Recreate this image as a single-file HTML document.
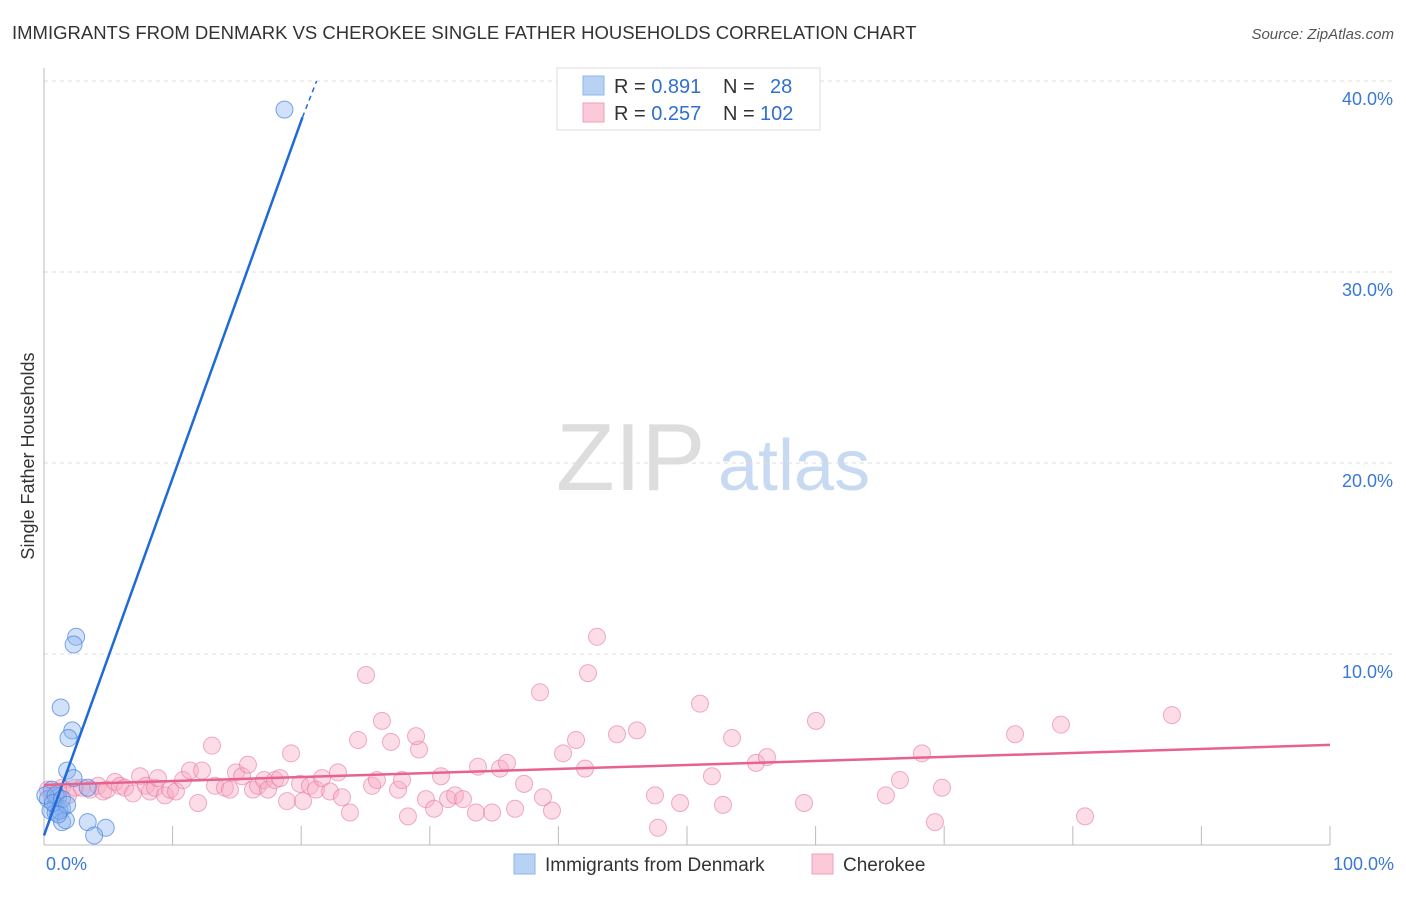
<!DOCTYPE html>
<html><head><meta charset="utf-8">
<style>
body{margin:0;background:#fff;font-family:"Liberation Sans",sans-serif;}
svg text{font-family:"Liberation Sans",sans-serif;}
</style></head>
<body>
<svg id="chart" width="1406" height="892" viewBox="0 0 1406 892" xmlns="http://www.w3.org/2000/svg">
<text x="12" y="39" font-size="18.5" fill="#333">IMMIGRANTS FROM DENMARK VS CHEROKEE SINGLE FATHER HOUSEHOLDS CORRELATION CHART</text>
<text x="1394" y="39" font-size="15" fill="#555" font-style="italic" text-anchor="end">Source: ZipAtlas.com</text>
<text x="556" y="490" font-size="96" fill="#ddd" font-family="Liberation Serif">ZIP</text>
<text x="718" y="490" font-size="72" fill="#c8daf2">atlas</text>
<text transform="translate(34,456) rotate(-90)" font-size="18" fill="#333" text-anchor="middle">Single Father Households</text>
<g id="grid"></g>
<g id="axes"></g>
<g id="pts"></g>
<g id="lines"></g>
<g>
<rect x="557" y="68" width="263" height="62" fill="#fff" stroke="#ddd"/>
<rect x="583" y="76" width="21" height="19" fill="#b8d2f4" stroke="#8fb4e8"/>
<rect x="583" y="103" width="21" height="19" fill="#fcc9d8" stroke="#f0a0b8"/>
<text x="614" y="93" font-size="20" fill="#333">R = <tspan fill="#2f6fd0">0.891</tspan><tspan x="723">N =</tspan><tspan x="770" fill="#2f6fd0">28</tspan></text>
<text x="614" y="120" font-size="20" fill="#333">R = <tspan fill="#2f6fd0">0.257</tspan><tspan x="723">N =</tspan><tspan x="760" fill="#2f6fd0">102</tspan></text>
</g>
<g>
<rect x="514" y="854" width="21" height="20" fill="#b8d2f4" stroke="#8fb4e8"/>
<text x="545" y="871" font-size="19" fill="#333">Immigrants from Denmark</text>
<rect x="812" y="854" width="21" height="20" fill="#fcc9d8" stroke="#f0a0b8"/>
<text x="843" y="871" font-size="19" fill="#333">Cherokee</text>
</g>
</svg>
<script>
const yTicks=[10,20,30,40];
const yTickLabels=["10.0%","20.0%","30.0%","40.0%"];
const xTickLabels=["0.0%","100.0%"];
const denmarkX=[18.7,2.5,2.3,1.3,2.2,1.9,1.8,2.3,3.4,0.6,0.3,0.9,1.1,1.4,0.5,0.9,1.4,1.7,3.4,4.8,3.9,0.1,0.9,1.2,0.7,1.4,1.8,1.1];
const denmarkY=[38.5,10.9,10.5,7.2,6.0,5.6,3.9,3.5,3.0,2.9,2.4,2.1,2.5,1.9,1.8,1.7,1.2,1.3,1.2,0.9,0.5,2.6,2.6,1.8,2.2,2.4,2.1,1.6];
const cherokeeX=[0.31,0.62,1.09,1.40,1.87,2.41,2.95,3.58,4.20,4.59,4.90,5.52,5.91,6.30,6.92,7.47,7.93,8.24,8.63,8.86,9.41,9.80,10.26,10.81,11.35,11.98,12.29,13.06,13.30,14.07,14.46,14.93,15.40,15.86,16.25,16.64,17.11,17.42,17.96,18.35,18.90,19.21,19.91,20.14,20.68,21.15,21.62,22.24,22.86,23.17,23.79,24.42,25.04,25.51,25.89,26.28,26.98,27.53,27.84,28.30,29.16,28.93,29.70,30.33,30.87,31.42,31.96,32.58,33.59,33.75,34.84,35.46,36.00,36.63,37.33,38.57,38.80,39.50,40.36,41.37,42.07,42.30,43.00,44.56,46.11,47.51,47.74,49.46,51.01,51.94,52.80,53.50,55.37,56.22,59.10,60.03,65.47,66.56,68.27,69.28,69.83,75.51,79.08,80.95,87.71];
const cherokeeY=[2.9,2.6,2.8,3.0,2.6,3.0,3.0,2.9,3.1,2.8,2.9,3.3,3.1,3.0,2.7,3.6,3.1,2.8,3.0,3.5,2.6,2.9,2.8,3.4,3.9,2.2,3.9,5.2,3.1,3.0,2.9,3.8,3.6,4.2,2.9,3.1,3.4,2.9,3.4,3.5,2.3,4.8,3.2,2.3,3.1,2.9,3.5,2.8,3.8,2.5,1.7,5.5,8.9,3.1,3.4,6.5,5.4,2.9,3.4,1.5,5.0,5.7,2.4,1.9,3.6,2.4,2.6,2.4,1.7,4.1,1.7,4.0,4.3,1.9,3.2,8.0,2.5,1.8,4.8,5.5,4.0,9.0,10.9,5.8,6.0,2.6,0.9,2.2,7.4,3.6,2.1,5.6,4.3,4.6,2.2,6.5,2.6,3.4,4.8,1.2,3.0,5.8,6.3,1.5,6.8];
const denmarkLine=[0,0.5,20.1,38.1,21.2,40.0];
const cherokeeLine=[0,3.14,100,5.24];
const X0=44,X1=1330,Y0=845,PY=19.1;
const xs=v=>X0+v*(X1-X0)/100, ys=v=>Y0-v*PY;
const NS="http://www.w3.org/2000/svg";
function mk(tag,attrs,parent){const e=document.createElementNS(NS,tag);for(const k in attrs)e.setAttribute(k,attrs[k]);parent.appendChild(e);return e;}
const grid=document.getElementById('grid'),axes=document.getElementById('axes'),pts=document.getElementById('pts'),lines=document.getElementById('lines');
yTicks.forEach((t,i)=>{
 const l=mk('line',{x1:X0,x2:1394,y1:ys(t),y2:ys(t),stroke:'#ddd','stroke-dasharray':'4,4'},grid);
 
 
 const tx=mk('text',{x:1393,y:ys(t)+24,'font-size':18,fill:'#3a78d8','text-anchor':'end'},axes);
 tx.textContent=yTickLabels[i];
 
 
});
const ya=mk('line',{x1:X0,x2:X0,y1:68,y2:Y0,stroke:'#bbb'},axes);


const xa=mk('line',{x1:X0,x2:X1,y1:Y0,y2:Y0,stroke:'#bbb'},axes);


for(let i=1;i<=10;i++){
 const t=mk('line',{x1:xs(i*10),x2:xs(i*10),y1:826,y2:Y0,stroke:'#bbb'},axes);
 
 
}
const xl0=mk('text',{x:46,y:870,'font-size':18,fill:'#3a78d8'},axes);xl0.textContent=xTickLabels[0];


const xl1=mk('text',{x:1394,y:870,'font-size':18,fill:'#3a78d8','text-anchor':'end'},axes);xl1.textContent=xTickLabels[1];


cherokeeX.forEach((x,i)=>{
 const c=mk('circle',{cx:xs(x),cy:ys(cherokeeY[i]),r:8.5,fill:'rgba(248,170,195,0.4)',stroke:'rgba(230,120,160,0.6)','stroke-width':1},pts);
 
 
});
denmarkX.forEach((x,i)=>{
 const c=mk('circle',{cx:xs(x),cy:ys(denmarkY[i]),r:8.5,fill:'rgba(140,180,240,0.4)',stroke:'rgba(70,130,220,0.7)','stroke-width':1},pts);
 
 
});
const bl=mk('line',{x1:xs(denmarkLine[0]),y1:ys(denmarkLine[1]),x2:xs(denmarkLine[2]),y2:ys(denmarkLine[3]),stroke:'#1f6ad6','stroke-width':2.5},lines);


const bd=mk('line',{x1:xs(denmarkLine[2]),y1:ys(denmarkLine[3]),x2:xs(denmarkLine[4]),y2:ys(denmarkLine[5]),stroke:'#1f6ad6','stroke-width':1.5,'stroke-dasharray':'5,4'},lines);


const pl=mk('line',{x1:xs(cherokeeLine[0]),y1:ys(cherokeeLine[1]),x2:xs(cherokeeLine[2]),y2:ys(cherokeeLine[3]),stroke:'#e8628f','stroke-width':2.5},lines);


</script>
</body></html>
